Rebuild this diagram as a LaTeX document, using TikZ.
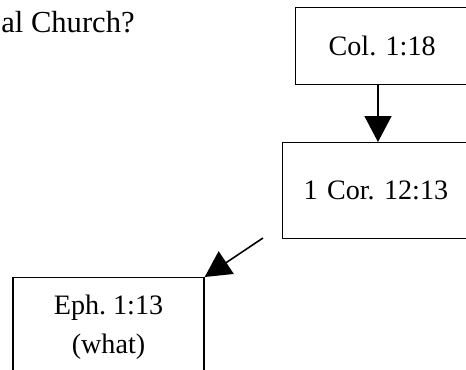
\documentclass[tikz,border=0pt]{standalone}
\usepackage{fontspec}
\setmainfont{Liberation Serif}
\usetikzlibrary{arrows.meta}

\tikzset{
  verse/.style={draw, line width=0.75pt, inner ysep=0pt, align=left, text width=5cm},
  pointer/.style={line width=0.9pt, -{Triangle[length=0.52cm, width=0.54cm]}}
}

\begin{document}
\frenchspacing
\begin{tikzpicture}[x=0.02cm, y=-0.02cm, font=\fontsize{16}{22.2}\selectfont]
\useasboundingbox (0,0) rectangle (466,369);
\clip (0,0) rectangle (466,369);

\node[anchor=base west, inner sep=0pt, font=\fontsize{17.4}{22}\selectfont] (title) at (1,32) {al Church?};

\node[verse, anchor=north west, inner xsep=0.66cm, minimum height=1.54cm] (col) at (295,7) {Col. 1:18};
\node[verse, anchor=north west, inner xsep=0.42cm, minimum height=1.92cm] (cor) at (282,142) {1 Cor. 12:13};
\node[draw, line width=0.75pt, anchor=north, inner sep=0pt, align=center,
      minimum width=3.82cm, minimum height=2cm] (eph) at (108.5,277) {Eph. 1:13\\(what)};

\coordinate (tail) at (263,238);

\draw[pointer] ([xshift=1.66cm]col.south west) -- ([xshift=1.66cm]col.south west |- cor.north);
\draw[pointer] (tail) -- (eph.north east);
\end{tikzpicture}
\end{document}
